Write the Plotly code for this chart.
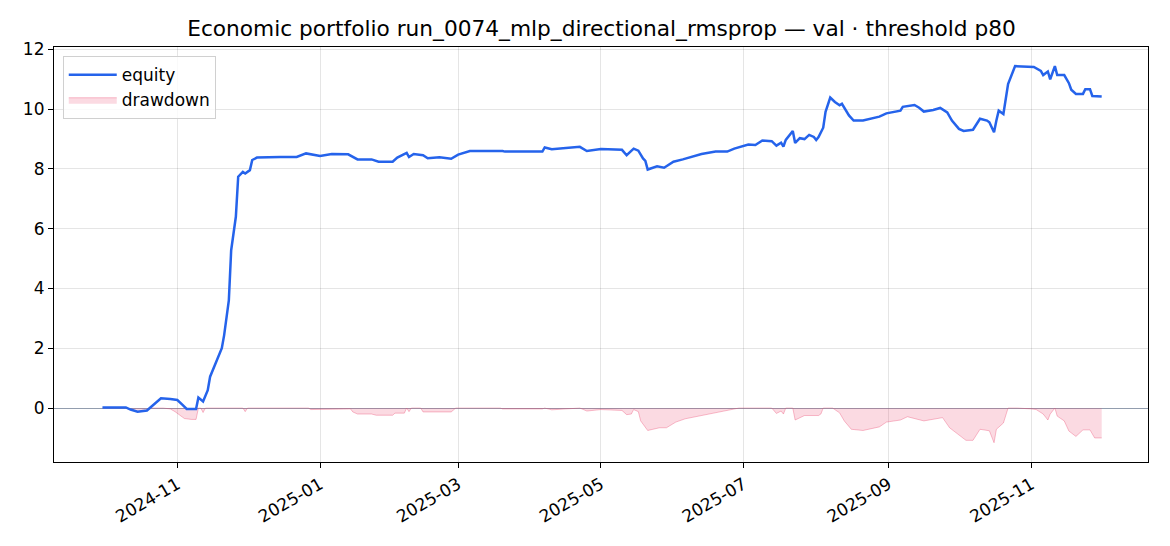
import plotly.graph_objects as go

# ---- equity curve ----
eq_dates = [
    "2024-09-30", "2024-10-10", "2024-10-12", "2024-10-15", "2024-10-19", "2024-10-21",
    "2024-10-25", "2024-10-29", "2024-11-01", "2024-11-03", "2024-11-05", "2024-11-09",
    "2024-11-10", "2024-11-12", "2024-11-14", "2024-11-15", "2024-11-17", "2024-11-18",
    "2024-11-20", "2024-11-21", "2024-11-23", "2024-11-24", "2024-11-26", "2024-11-27",
    "2024-11-29", "2024-11-30", "2024-12-02", "2024-12-03", "2024-12-05", "2024-12-15",
    "2024-12-22", "2024-12-26", "2025-01-01", "2025-01-06", "2025-01-13", "2025-01-17",
    "2025-01-23", "2025-01-26", "2025-02-01", "2025-02-03", "2025-02-07", "2025-02-08",
    "2025-02-10", "2025-02-14", "2025-02-16", "2025-02-21", "2025-02-26", "2025-03-01",
    "2025-03-06", "2025-03-20", "2025-03-21", "2025-04-06", "2025-04-07", "2025-04-10",
    "2025-04-22", "2025-04-25", "2025-05-01", "2025-05-10", "2025-05-12", "2025-05-15",
    "2025-05-17", "2025-05-19", "2025-05-20", "2025-05-21", "2025-05-25", "2025-05-28",
    "2025-06-01", "2025-06-05", "2025-06-08", "2025-06-13", "2025-06-19", "2025-06-24",
    "2025-06-27", "2025-07-01", "2025-07-03", "2025-07-06", "2025-07-09", "2025-07-13",
    "2025-07-15", "2025-07-17", "2025-07-18", "2025-07-19", "2025-07-22", "2025-07-23",
    "2025-07-25", "2025-07-27", "2025-07-29", "2025-07-31", "2025-08-01", "2025-08-02",
    "2025-08-04", "2025-08-05", "2025-08-07", "2025-08-09", "2025-08-11", "2025-08-12",
    "2025-08-15", "2025-08-17", "2025-08-21", "2025-08-28", "2025-08-31", "2025-09-06",
    "2025-09-07", "2025-09-12", "2025-09-14", "2025-09-16", "2025-09-20", "2025-09-23",
    "2025-09-26", "2025-09-28", "2025-10-01", "2025-10-03", "2025-10-07", "2025-10-10",
    "2025-10-13", "2025-10-14", "2025-10-16", "2025-10-17", "2025-10-18", "2025-10-20",
    "2025-10-22", "2025-10-25", "2025-11-02", "2025-11-05", "2025-11-06", "2025-11-08",
    "2025-11-09", "2025-11-11", "2025-11-12", "2025-11-15", "2025-11-17", "2025-11-18",
    "2025-11-20", "2025-11-23", "2025-11-24", "2025-11-26", "2025-11-27", "2025-12-01",
]
eq_values = [
    0.02, 0.02, -0.05, -0.12, -0.08, 0.05,
    0.33, 0.30, 0.27, 0.12, -0.03, -0.03,
    0.35, 0.22, 0.60, 1.05, 1.44, 1.67,
    2.00, 2.44, 3.60, 5.28, 6.40, 7.74,
    7.90, 7.85, 7.96, 8.30, 8.38, 8.40,
    8.40, 8.52, 8.43, 8.50, 8.49, 8.32,
    8.32, 8.24, 8.24, 8.38, 8.54, 8.40,
    8.50, 8.46, 8.36, 8.39, 8.34, 8.48,
    8.60, 8.60, 8.58, 8.58, 8.72, 8.66,
    8.74, 8.60, 8.67, 8.64, 8.46, 8.68,
    8.61, 8.35, 8.27, 7.98, 8.09, 8.04,
    8.24, 8.32, 8.39, 8.50, 8.58, 8.58,
    8.68, 8.76, 8.82, 8.80, 8.95, 8.93,
    8.78, 8.88, 8.75, 8.97, 9.27, 8.87,
    9.03, 9.00, 9.14, 9.07, 8.97, 9.07,
    9.38, 9.91, 10.39, 10.24, 10.13, 10.18,
    9.79, 9.62, 9.62, 9.75, 9.86, 9.95,
    10.08, 10.14, 10.05, 9.92, 9.97, 10.04,
    9.89, 9.62, 9.34, 9.27, 9.31, 9.68,
    9.62, 9.56, 9.23, 9.62, 9.95, 9.84,
    10.84, 11.44, 11.41, 11.28, 11.14, 11.26,
    11.00, 11.44, 11.14, 11.14, 10.87, 10.65,
    10.51, 10.51, 10.67, 10.67, 10.44, 10.42,
]

# ---- drawdown ----
dd_dates = [
    "2024-09-30", "2024-10-10", "2024-10-12", "2024-10-15", "2024-10-19", "2024-10-21",
    "2024-10-26", "2024-10-29", "2024-10-31", "2024-11-02", "2024-11-04", "2024-11-07",
    "2024-11-09", "2024-11-10", "2024-11-11", "2024-11-12", "2024-11-13", "2024-11-29",
    "2024-11-30", "2024-12-01", "2024-12-27", "2024-12-28", "2025-01-05", "2025-01-06",
    "2025-01-14", "2025-01-15", "2025-01-17", "2025-01-23", "2025-01-25", "2025-02-01",
    "2025-02-02", "2025-02-06", "2025-02-07", "2025-02-08", "2025-02-09", "2025-02-13",
    "2025-02-14", "2025-02-26", "2025-02-28", "2025-03-19", "2025-03-20", "2025-04-06",
    "2025-04-07", "2025-04-10", "2025-04-22", "2025-04-25", "2025-04-30", "2025-05-01",
    "2025-05-10", "2025-05-12", "2025-05-14", "2025-05-15", "2025-05-17", "2025-05-18",
    "2025-05-21", "2025-05-26", "2025-05-29", "2025-06-02", "2025-06-06", "2025-06-13",
    "2025-06-19", "2025-06-27", "2025-06-29", "2025-07-13", "2025-07-15", "2025-07-17",
    "2025-07-18", "2025-07-19", "2025-07-22", "2025-07-23", "2025-07-27", "2025-08-02",
    "2025-08-03", "2025-08-04", "2025-08-08", "2025-08-11", "2025-08-13", "2025-08-16",
    "2025-08-21", "2025-08-28", "2025-08-31", "2025-09-06", "2025-09-09", "2025-09-16",
    "2025-09-24", "2025-09-27", "2025-10-04", "2025-10-07", "2025-10-10", "2025-10-14",
    "2025-10-16", "2025-10-17", "2025-10-20", "2025-10-22", "2025-10-26", "2025-11-01",
    "2025-11-03", "2025-11-04", "2025-11-06", "2025-11-08", "2025-11-09", "2025-11-11",
    "2025-11-12", "2025-11-15", "2025-11-17", "2025-11-20", "2025-11-23", "2025-11-26",
    "2025-11-28", "2025-12-01",
]
dd_values = [
    0.00, 0.00, -0.06, -0.12, -0.08, 0.00,
    0.00, -0.03, -0.12, -0.25, -0.35, -0.38,
    -0.38, 0.00, 0.00, -0.15, 0.00, 0.00,
    -0.12, 0.00, 0.00, -0.05, -0.05, -0.03,
    -0.03, -0.13, -0.20, -0.20, -0.24, -0.24,
    -0.17, -0.17, 0.00, -0.12, 0.00, 0.00,
    -0.13, -0.13, 0.00, 0.00, -0.03, -0.03,
    0.00, -0.06, 0.00, -0.10, -0.06, -0.05,
    -0.08, -0.22, -0.20, -0.05, -0.12, -0.43,
    -0.75, -0.66, -0.66, -0.47, -0.36, -0.25,
    -0.16, -0.04, 0.00, 0.00, -0.18, -0.10,
    -0.20, 0.00, 0.00, -0.40, -0.25, -0.25,
    -0.20, 0.00, 0.00, -0.16, -0.43, -0.71,
    -0.75, -0.63, -0.47, -0.40, -0.29, -0.43,
    -0.32, -0.66, -1.08, -1.08, -0.71, -0.76,
    -1.16, -0.71, -0.50, 0.00, 0.00, -0.03,
    -0.05, -0.10, -0.20, -0.40, -0.20, 0.00,
    -0.27, -0.43, -0.77, -0.95, -0.73, -0.73,
    -1.00, -1.00,
]

title_text = "Economic portfolio run_0074_mlp_directional_rmsprop — val · threshold p80"
FONT = "DejaVu Sans"

fig = go.Figure()
fig.add_trace(go.Scatter(
    x=dd_dates, y=dd_values, mode="lines", name="drawdown",
    fill="tozeroy", fillcolor="rgba(235,70,110,0.2)",
    line=dict(color="rgba(235,70,110,0.35)", width=1),
    legendrank=2,
))
fig.add_trace(go.Scatter(
    x=eq_dates, y=eq_values, mode="lines", name="equity",
    line=dict(color="#2563eb", width=2.5),
    legendrank=1,
))

fig.update_layout(
    width=1154, height=530,
    margin=dict(l=46, r=14, t=39, b=76),
    paper_bgcolor="white", plot_bgcolor="white",
    font=dict(family=FONT, size=17, color="black"),
    title=dict(text=title_text, x=0.5143, xanchor="center", y=0.962, yanchor="middle",
               font=dict(family=FONT, size=21.7, color="black")),
    showlegend=True,
    legend=dict(x=0.008, y=0.978, xanchor="left", yanchor="top",
                bgcolor="rgba(255,255,255,0.8)", bordercolor="#d0d0d0", borderwidth=1,
                itemwidth=48,
                font=dict(family=FONT, size=17)),
)
fig.update_xaxes(
    type="date",
    range=["2024-09-09 07:00", "2025-12-20 19:00"],
    tick0="2024-11-01", dtick="M2", tickformat="%Y-%m",
    tickangle=-30,
    showgrid=True, gridcolor="rgba(0,0,0,0.1)", gridwidth=1,
    showline=True, linecolor="black", linewidth=1.2, mirror=True,
    ticks="outside", ticklen=5, tickcolor="black",
    zeroline=False,
)
fig.update_yaxes(
    range=[-1.805, 12.08],
    tick0=0, dtick=2,
    showgrid=True, gridcolor="rgba(0,0,0,0.1)", gridwidth=1,
    showline=True, linecolor="black", linewidth=1.2, mirror=True,
    ticks="outside", ticklen=5, tickcolor="black",
    zeroline=True, zerolinecolor="rgba(100,116,139,0.7)", zerolinewidth=1,
)

fig.write_html("out.html")
